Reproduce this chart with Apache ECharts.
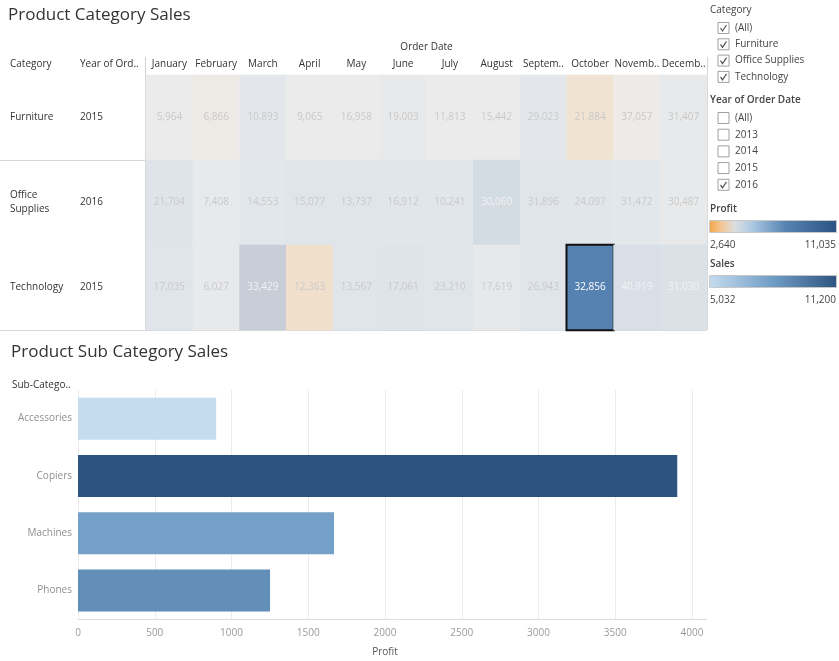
<!DOCTYPE html>
<html>
<head>
<meta charset="utf-8">
<script src="https://cdn.jsdelivr.net/npm/echarts@6/dist/echarts.min.js"></script>
<style>
  html, body { margin: 0; padding: 0; background: #fff; }
  #chart { width: 839px; height: 661px; }
</style>
</head>
<body>
<div id="chart"></div>
<script>
// ---- data ----
const months = ['January', 'February', 'March', 'April', 'May', 'June', 'July',
  'August', 'September', 'October', 'November', 'December'];
const categories = ['Furniture', 'Office Supplies', 'Technology'];
const orderYears = ['2015', '2016', '2015'];

const furnitureSales = [5964, 6866, 10893, 9065, 16958, 19003, 11813, 15442, 29023, 21884, 37057, 31407];
const officeSales = [21704, 7408, 14553, 15077, 13737, 16912, 10241, 30060, 31896, 24097, 31472, 30487];
const technologySales = [17035, 6027, 33429, 12363, 13567, 17061, 23210, 17619, 26943, 32856, 40919, 31030];

const furnitureProfit = [4420, 4050, 5325, 4400, 4460, 4905, 4450, 4460, 5330, 3020, 4120, 4820];
const officeProfit = [5830, 4900, 5410, 5660, 5745, 5495, 5500, 7260, 5750, 5580, 5490, 4905];
const technologyProfit = [5740, 4910, 11035, 2640, 5750, 5830, 5760, 4930, 5740, 7723, 6640, 6380];

const selectedCategory = 'Technology';
const selectedMonth = 'October';

const subCategories = ['Accessories', 'Copiers', 'Machines', 'Phones'];
const subProfit = [900, 3904, 1668, 1251];
const subSales = [5032, 11200, 7900, 8724];

const profitRange = [2640, 11035];
const salesRange = [5032, 11200];
const profitTicks = ['2,640', '11,035'];
const salesTicks = ['5,032', '11,200'];

const categoryFilter = ['(All)', 'Furniture', 'Office Supplies', 'Technology'];
const categoryChecked = [true, true, true, true];
const yearFilter = ['(All)', '2013', '2014', '2015', '2016'];
const yearChecked = [false, false, false, false, true];

// ---- colour ramps ----
const FONT = '"Open Sans", "DejaVu Sans", sans-serif';
const profitStops = [[0, '#f2a446'], [0.1, '#f3c896'], [0.2, '#dcdedf'], [0.33, '#aec9e3'], [0.6, '#5683b1'], [1, '#2b5283']];
const salesStops = [[0, '#c5dcef'], [0.5, '#6f9cc4'], [1, '#2d5480']];

function hexToRgb(h) {
  const n = parseInt(h.slice(1), 16);
  return [(n >> 16) & 255, (n >> 8) & 255, n & 255];
}
function rgbStr(c) { return 'rgb(' + c.map(v => Math.round(v)).join(',') + ')'; }
function ramp(stops, t) {
  t = Math.max(0, Math.min(1, t));
  for (let i = 1; i < stops.length; i++) {
    if (t <= stops[i][0]) {
      const a = stops[i - 1], b = stops[i];
      const k = (t - a[0]) / (b[0] - a[0]);
      const ca = hexToRgb(a[1]), cb = hexToRgb(b[1]);
      return ca.map((v, j) => v + (cb[j] - v) * k);
    }
  }
  return hexToRgb(stops[stops.length - 1][1]);
}
// unselected marks are washed out towards the pane background
const FADE_BG = [240, 239, 238];
const FADE_W = 0.21;
function fade(c) { return c.map((v, j) => v * FADE_W + FADE_BG[j] * (1 - FADE_W)); }

function profitColor(p) { return ramp(profitStops, (p - profitRange[0]) / (profitRange[1] - profitRange[0])); }
function salesColor(s) { return rgbStr(ramp(salesStops, (s - salesRange[0]) / (salesRange[1] - salesRange[0]))); }

// ---- heatmap cells ----
const salesRows = [furnitureSales, officeSales, technologySales];
const profitRows = [furnitureProfit, officeProfit, technologyProfit];
const whiteTextFrom = profitRange[0] + 0.44 * (profitRange[1] - profitRange[0]);
const heatData = [];
categories.forEach((cat, yi) => {
  months.forEach((m, xi) => {
    const sales = salesRows[yi][xi];
    const profit = profitRows[yi][xi];
    const selected = cat === selectedCategory && m === selectedMonth;
    const base = profitColor(profit);
    const text = profit >= whiteTextFrom ? [255, 255, 255] : [60, 60, 60];
    heatData.push({
      value: [xi, yi, sales],
      itemStyle: selected
        ? { color: rgbStr(base), borderColor: '#111', borderWidth: 2 }
        : { color: rgbStr(fade(base)) },
      label: { color: selected ? '#fff' : rgbStr(fade(text)) }
    });
  });
});

// ---- side panel graphics ----
const graphics = [];
function addText(x, y, text, opts) {
  graphics.push({
    type: 'text', x: x, y: y, silent: true,
    style: Object.assign({ text: text, fill: '#333', font: '10px ' + FONT, verticalAlign: 'middle', align: 'left' }, opts || {})
  });
}
function addLine(x1, y1, x2, y2, color) {
  graphics.push({ type: 'line', silent: true, shape: { x1: x1, y1: y1, x2: x2, y2: y2 }, style: { stroke: color, lineWidth: 1 } });
}
function addCheck(x, y, checked) {
  graphics.push({ type: 'rect', silent: true, shape: { x: x, y: y - 5.5, width: 11, height: 11 },
    style: { fill: '#fff', stroke: '#a0a0a0', lineWidth: 1 } });
  if (checked) {
    graphics.push({ type: 'polyline', silent: true,
      shape: { points: [[x + 2.5, y], [x + 4.5, y + 3], [x + 8.5, y - 3]] },
      style: { stroke: '#555', lineWidth: 1.2, fill: null } });
  }
}

// table frame
addLine(145.5, 57, 145.5, 330, '#d4d4d4');
addLine(707.5, 57, 707.5, 330, '#d4d4d4');
addLine(0, 160.5, 707, 160.5, '#d9d9d9');
addLine(0, 330.5, 707, 330.5, '#d9d9d9');
addText(10, 64, 'Category', { fill: '#333' });
addText(80, 64, 'Year of Ord..', { fill: '#333' });
addText(12, 385, 'Sub-Catego..', { fill: '#333' });
addLine(78, 619.5, 707, 619.5, '#dcdcdc');

// filters
addText(710, 10, 'Category', { fill: '#444' });
categoryFilter.forEach((t, i) => {
  const y = 28 + i * 16.3;
  addCheck(718, y, categoryChecked[i]);
  addText(735, y, t, { fill: '#444' });
});
addText(710, 100, 'Year of Order Date', { font: '600 10px ' + FONT, fill: '#444' });
yearFilter.forEach((t, i) => {
  const y = 118 + i * 16.7;
  addCheck(718, y, yearChecked[i]);
  addText(735, y, t, { fill: '#444' });
});

// colour legends
function addRamp(y0, title, stops, ticks) {
  addText(710, y0, title, { font: '600 10px ' + FONT, fill: '#444' });
  graphics.push({ type: 'rect', silent: true, shape: { x: 709.5, y: y0 + 11.5, width: 127, height: 12 },
    style: { stroke: '#c8c8c8', lineWidth: 1,
      fill: { type: 'linear', x: 0, y: 0, x2: 1, y2: 0, colorStops: stops.map(s => ({ offset: s[0], color: s[1] })) } } });
  addText(710, y0 + 36, ticks[0], { fill: '#444' });
  addText(836, y0 + 36, ticks[1], { fill: '#444', align: 'right' });
}
addRamp(209, 'Profit', profitStops, profitTicks);
addRamp(264, 'Sales', salesStops, salesTicks);

// ---- chart ----
const chart = echarts.init(document.getElementById('chart'), null, { renderer: 'canvas' });
chart.setOption({
  animation: false,
  backgroundColor: '#fff',
  textStyle: { fontFamily: FONT },
  title: [
    { text: 'Product Category Sales', left: 8, top: 7, padding: 0,
      textStyle: { fontSize: 17, fontWeight: 'normal', color: '#333', fontFamily: FONT } },
    { text: 'Product Sub Category Sales', left: 11, top: 344, padding: 0,
      textStyle: { fontSize: 17, fontWeight: 'normal', color: '#333', fontFamily: FONT } }
  ],
  grid: [
    { left: 146, top: 75, width: 561, height: 255 },
    { left: 78, top: 390, width: 614, height: 229 }
  ],
  xAxis: [
    {
      type: 'category', gridIndex: 0, data: months, position: 'top',
      axisLine: { show: false }, axisTick: { show: false }, splitLine: { show: false },
      axisLabel: { interval: 0, margin: 6, fontSize: 10, color: '#333', width: 47, overflow: 'truncate', ellipsis: '..' },
      name: 'Order Date', nameLocation: 'middle', nameGap: 23,
      nameTextStyle: { fontSize: 10, color: '#333' }
    },
    {
      type: 'value', gridIndex: 1, min: 0, max: 4000, interval: 500,
      axisLine: { show: false }, axisTick: { show: false },
      axisLabel: { fontSize: 10, color: '#9a9a9a', margin: 9, formatter: v => String(v) },
      splitLine: { show: true, lineStyle: { color: '#ececec', width: 1 } },
      name: 'Profit', nameLocation: 'middle', nameGap: 28,
      nameTextStyle: { fontSize: 10, color: '#555' }
    }
  ],
  yAxis: [
    {
      type: 'category', gridIndex: 0, data: categories, inverse: true,
      axisLine: { show: false }, axisTick: { show: false }, splitLine: { show: false },
      axisLabel: { align: 'left', margin: 136, fontSize: 10, color: '#333', width: 58, overflow: 'break', lineHeight: 14 }
    },
    {
      type: 'category', gridIndex: 0, data: categories, inverse: true, position: 'left',
      axisLine: { show: false }, axisTick: { show: false }, splitLine: { show: false },
      axisLabel: { align: 'left', margin: 66, fontSize: 10, color: '#333', formatter: (v, i) => orderYears[i] }
    },
    {
      type: 'category', gridIndex: 1, data: subCategories, inverse: true,
      axisLine: { show: false }, axisTick: { show: false }, splitLine: { show: false },
      axisLabel: { fontSize: 10, color: '#8f8f8f', margin: 6 }
    }
  ],
  series: [
    {
      type: 'heatmap', xAxisIndex: 0, yAxisIndex: 0, data: heatData,
      label: { show: true, fontSize: 10, fontFamily: FONT,
        formatter: p => p.value[2].toLocaleString('en-US') },
      emphasis: { disabled: true }
    },
    {
      type: 'bar', xAxisIndex: 1, yAxisIndex: 2, barWidth: 42,
      data: subProfit.map((v, i) => ({ value: v, itemStyle: { color: salesColor(subSales[i]) } })),
      emphasis: { disabled: true }
    }
  ],
  graphic: graphics
});
</script>
</body>
</html>
